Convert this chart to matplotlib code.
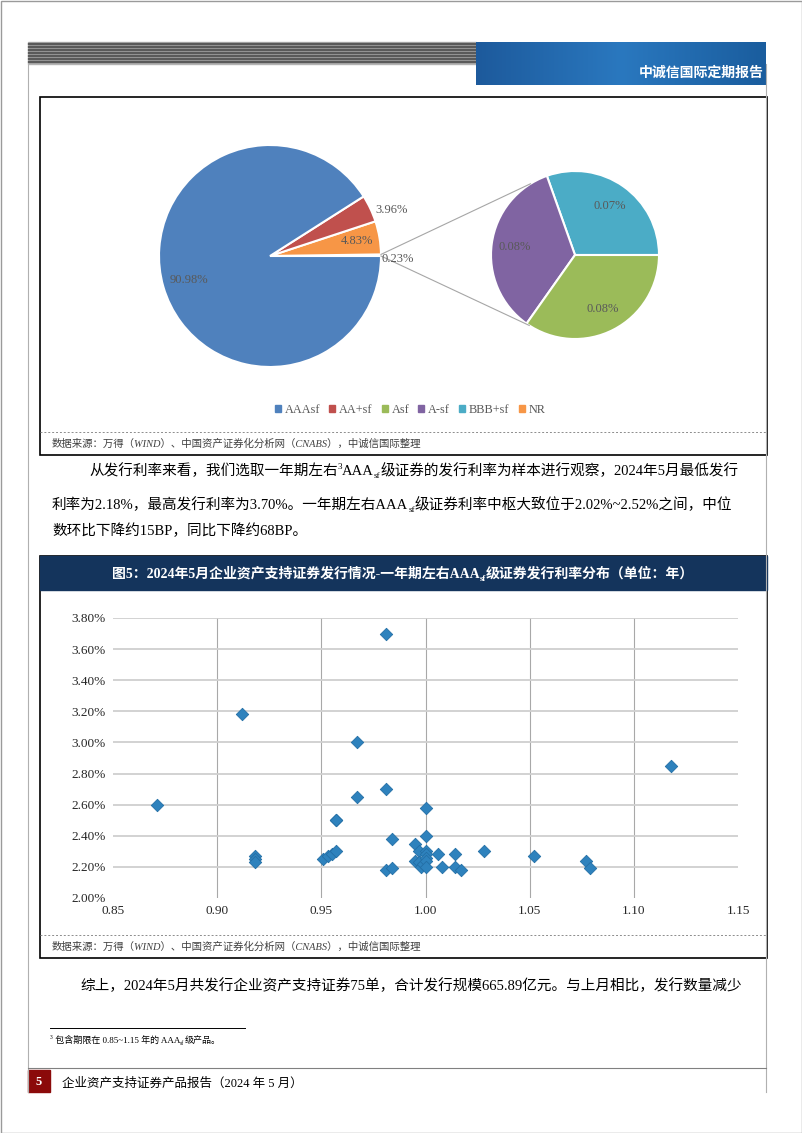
import numpy as np
import matplotlib.pyplot as plt
from matplotlib.patches import Rectangle, Patch
from matplotlib.ticker import FixedLocator, FuncFormatter

# ---- data ----
pie_cats = ['AAAsf', 'AA+sf', 'Asf', 'A-sf', 'BBB+sf', 'NR']
pie_share = [90.98, 3.96, 0.08, 0.08, 0.07, 4.83]
pie_colors = ['#4F81BD', '#C0504D', '#9BBB59', '#8064A2', '#4BACC6', '#F79646']

# term (years) and issue rate (%) of ~1y AAAsf deals, May 2024
term = [0.871, 0.912, 0.918, 0.918, 0.918, 0.951, 0.953, 0.955, 0.957, 0.957,
        0.957, 0.967, 0.967, 0.981, 0.981, 0.981, 0.984, 0.984, 0.995, 0.995,
        0.997, 0.997, 0.998, 0.999, 1.000, 1.000, 1.000, 1.000, 1.000, 1.000,
        1.000, 1.006, 1.008, 1.014, 1.014, 1.017, 1.028, 1.052, 1.077, 1.079,
        1.118]
rate = [2.60, 3.18, 2.27, 2.25, 2.23, 2.25, 2.27, 2.28, 2.30, 2.50,
        2.50, 3.00, 2.65, 3.70, 2.70, 2.18, 2.19, 2.38, 2.35, 2.24,
        2.30, 2.23, 2.20, 2.22, 2.58, 2.40, 2.30, 2.28, 2.26, 2.24,
        2.20, 2.28, 2.20, 2.28, 2.20, 2.18, 2.30, 2.27, 2.24, 2.19,
        2.85]
x_ticks = [0.85, 0.90, 0.95, 1.00, 1.05, 1.10, 1.15]
y_ticks = [2.0, 2.2, 2.4, 2.6, 2.8, 3.0, 3.2, 3.4, 3.6, 3.8]

W, H = 802, 1133
CJK = ['Liberation Serif', 'Noto Sans CJK SC']
plt.rcParams['font.family'] = CJK

fig = plt.figure(figsize=(W / 100, H / 100), dpi=100)
bg = fig.add_axes([0, 0, 1, 1])
bg.set_xlim(0, W)
bg.set_ylim(H, 0)
bg.axis('off')


def write(x, y, parts, size, color='black', weight='normal'):
    # chain text pieces so subscripts / superscripts follow the previous piece
    prev = None
    for s, kind in parts:
        fs = size if kind == '' else size * 0.62
        rise = {'': 0, 'sub': -size * 0.22, 'sup': size * 0.42}[kind]
        if prev is None:
            xy, xyc = (x, y), 'data'
        else:
            xy, xyc = (1, y), (prev, 'data')
        prev = bg.annotate(s, xy=xy, xycoords=xyc, xytext=(0, rise),
                           textcoords='offset points', fontsize=fs, color=color,
                           weight=weight, ha='left', va='baseline', family=CJK)
    return prev


# ---- page furniture ----
bg.add_patch(Rectangle((0.5, 0.5), W - 1, H - 1, fill=False, ec='#9a9a9a', lw=1))
bg.plot([28, 28], [64, 1092], color='#b0b0b0', lw=0.8)
bg.plot([766, 766], [64, 1092], color='#b0b0b0', lw=0.8)
bg.add_patch(Rectangle((28, 42), 448, 22, color='#b4b4b4'))
for yy in range(43, 64, 3):
    bg.add_patch(Rectangle((28, yy), 448, 1.3, color='#5a5a5a'))
grad = np.linspace(0, 1, 200).reshape(1, -1)
bg.imshow(grad, extent=(476, 766, 85, 42), cmap=plt.matplotlib.colors.LinearSegmentedColormap.from_list(
    'b', ['#1d5a9c', '#2a78bf', '#1a5d9e']), aspect='auto', zorder=1)
bg.text(764, 77, '中诚信国际定期报告', color='white', fontsize=10, ha='right',
        va='baseline', weight='bold', zorder=2)

# box 1 (pie)
bg.add_patch(Rectangle((40, 97), 727, 358, fill=False, ec='black', lw=1.2))
bg.plot([40, 767], [432, 432], color='#8c8c8c', lw=0.7, ls=(0, (2, 2)))
src = '数据来源：万得（WIND）、中国资产证券化分析网（CNABS），中诚信国际整理'
bg.text(52, 447, src, fontsize=7.5, color='#404040', va='baseline', style='italic')

# paragraph
write(89, 475, [('从发行利率来看，我们选取一年期左右', ''), ('3', 'sup'), ('AAA', ''), ('sf', 'sub'),
                ('级证券的发行利率为样本进行观察，2024年5月最低发行', '')], 10.5)
write(52, 509, [('利率为2.18%，最高发行利率为3.70%。一年期左右AAA', ''), ('sf', 'sub'),
                ('级证券利率中枢大致位于2.02%~2.52%之间，中位', '')], 10.5)
write(52, 535, [('数环比下降约15BP，同比下降约68BP。', '')], 10.5)

# box 2 (scatter)
bg.add_patch(Rectangle((40, 556), 727, 402, fill=False, ec='black', lw=1.2))
bg.add_patch(Rectangle((40, 556), 727, 34, color='#14345c'))
write(112, 578, [('图5：2024年5月企业资产支持证券发行情况-一年期左右AAA', ''), ('sf', 'sub'),
                 ('级证券发行利率分布（单位：年）', '')], 10, color='white', weight='bold')
bg.plot([40, 767], [935, 935], color='#8c8c8c', lw=0.7, ls=(0, (2, 2)))
bg.text(52, 950, src, fontsize=7.5, color='#404040', va='baseline', style='italic')

write(80, 990, [('综上，2024年5月共发行企业资产支持证券75单，合计发行规模665.89亿元。与上月相比，发行数量减少', '')], 10.5)

# footnote and footer
bg.plot([50, 245], [1028, 1028], color='black', lw=0.7)
write(50, 1043, [('3', 'sup'), (' 包含期限在 0.85~1.15 年的 AAA', ''), ('sf', 'sub'), ('级产品。', '')], 6.5)
bg.plot([28, 766], [1068, 1068], color='#808080', lw=0.8)
bg.add_patch(Rectangle((28, 1070), 22, 22, color='#8b0a0a'))
bg.text(39, 1082, '5', color='white', fontsize=9, weight='bold', ha='center', va='center')
bg.text(62, 1087, '企业资产支持证券产品报告（2024 年 5 月）', fontsize=9, va='baseline')

# ---- pie of pie ----
pax = fig.add_axes([40 / W, 1 - 432 / H, 727 / W, 334 / H])
pax.set_facecolor('none')
share = dict(zip(pie_cats, pie_share))
col = dict(zip(pie_cats, pie_colors))
other = share['Asf'] + share['A-sf'] + share['BBB+sf']

c1, r1 = (270, 877), 111
c2, r2 = (575, 878), 84
main_vals = [other, share['NR'], share['AA+sf'], share['AAAsf']]
main_cols = ['white', col['NR'], col['AA+sf'], col['AAAsf']]
w1, _ = pax.pie(main_vals, colors=main_cols, startangle=0, center=c1, radius=r1,
                wedgeprops=dict(edgecolor='white', linewidth=1.5))
sec_keys = ['BBB+sf', 'A-sf', 'Asf']
w2, _ = pax.pie([share[k] for k in sec_keys], colors=[col[k] for k in sec_keys],
                startangle=0, center=c2, radius=r2,
                wedgeprops=dict(edgecolor='white', linewidth=1.5))

lab_style = dict(fontsize=9, color='#595959', ha='center', va='center', family='Liberation Serif')
for w, v, d, a_off in zip(w1, main_vals, [1.15, 0.79, 1.18, 0.76], [0, 0, -3, 0]):
    a = np.deg2rad((w.theta1 + w.theta2) / 2 + a_off)
    pax.text(c1[0] + d * r1 * np.cos(a), c1[1] + d * r1 * np.sin(a) - (4 if d > 1 else 0),
             f'{v:.2f}%', **lab_style)
for w, k in zip(w2, sec_keys):
    a = np.deg2rad((w.theta1 + w.theta2) / 2)
    pax.text(c2[0] + 0.72 * r2 * np.cos(a), c2[1] + 0.72 * r2 * np.sin(a), f'{share[k]:.2f}%', **lab_style)

# connector lines from the "other" slice to the secondary pie
for th_main, th_sec in [(w1[0].theta2, 122), (w1[0].theta1, 237)]:
    p0 = (c1[0] + r1 * np.cos(np.deg2rad(th_main)), c1[1] + r1 * np.sin(np.deg2rad(th_main)))
    p1 = (c2[0] + r2 * np.cos(np.deg2rad(th_sec)), c2[1] + r2 * np.sin(np.deg2rad(th_sec)))
    pax.plot([p0[0], p1[0]], [p0[1], p1[1]], color='#a6a6a6', lw=0.8)

pax.set_xlim(40, 767)
pax.set_ylim(H - 432, H - 98)
pax.set_aspect('auto')
pax.axis('off')
handles = [Patch(color=col[k]) for k in pie_cats]
pax.legend(handles, pie_cats, loc='center', bbox_to_anchor=(0.509, 0.066), ncol=6,
           frameon=False, handlelength=0.5, handleheight=0.5, handletextpad=0.3,
           columnspacing=0.75, prop={'family': 'Liberation Serif', 'size': 8.8},
           labelcolor='#595959')

# ---- scatter ----
ax = fig.add_axes([113 / W, 1 - 898 / H, 625 / W, 280 / H])
ax.scatter(term, rate, marker='D', s=40, color='#2e82bd', edgecolor='#236fa6',
           linewidth=0.6, zorder=3)
ax.set_xlim(0.85, 1.15)
ax.set_ylim(2.0, 3.8)
ax.xaxis.set_major_locator(FixedLocator(x_ticks))
ax.yaxis.set_major_locator(FixedLocator(y_ticks))
ax.xaxis.set_major_formatter(FuncFormatter(lambda v, p: f'{v:.2f}'))
ax.yaxis.set_major_formatter(FuncFormatter(lambda v, p: f'{v:.2f}%'))
for s in ax.spines.values():
    s.set_visible(False)
ax.tick_params(length=0, labelsize=9.5, colors='#262626', pad=5)
for lab in ax.get_xticklabels() + ax.get_yticklabels():
    lab.set_family('Liberation Serif')
ax.grid(axis='y', color='#cfcfcf', lw=1.3)
ax.grid(axis='x', color='#a8a8a8', lw=0.8)
ax.set_axisbelow(True)
ax.yaxis.get_major_ticks()[0].gridline.set_visible(False)
ax.xaxis.get_major_ticks()[0].gridline.set_visible(False)
ax.xaxis.get_major_ticks()[-1].gridline.set_visible(False)

fig.savefig('out.png', dpi=100)
